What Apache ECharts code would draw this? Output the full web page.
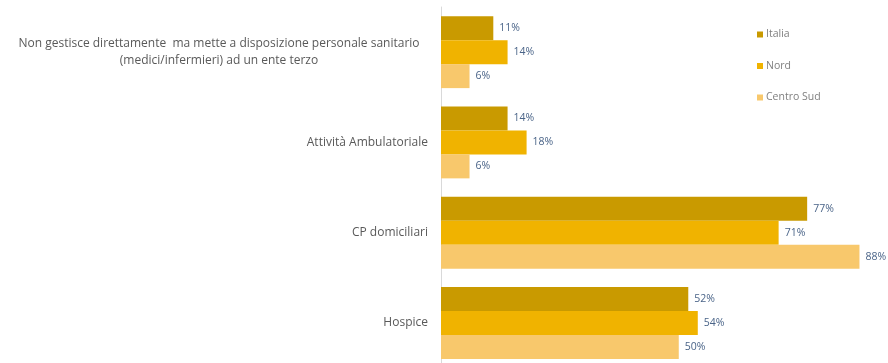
<!DOCTYPE html>
<html><head><meta charset="utf-8">
<script src="https://cdn.jsdelivr.net/npm/echarts@6/dist/echarts.min.js"></script>
<style>html,body{margin:0;padding:0;background:#fff;overflow:hidden}#c{width:888px;height:368px}</style>
</head><body><div id="c"></div>
<script>
var categories = [
  "Non gestisce direttamente  ma mette a disposizione personale sanitario\n(medici/infermieri) ad un ente terzo",
  "Attività Ambulatoriale",
  "CP domiciliari",
  "Hospice"
];
var seriesNames = ["Italia", "Nord", "Centro Sud"];
var italia = [11, 14, 77, 52];
var nord = [14, 18, 71, 54];
var centroSud = [6, 6, 88, 50];
var colors = ["#C99A00", "#F0B300", "#F8C86C"];

var values = [italia, nord, centroSud];
var chart = echarts.init(document.getElementById('c'));
chart.setOption({
  animation: false,
  backgroundColor: '#ffffff',
  legend: {
    orient: 'vertical',
    left: 752, top: 24,
    itemWidth: 6, itemHeight: 6, itemGap: 20.5,
    icon: 'rect',
    textStyle: {fontFamily: 'Open Sans', fontSize: 10.5, color: '#7f7f7f', padding: [0,0,0,-2]},
    data: seriesNames
  },
  grid: {left: 441, right: 0, top: 7, bottom: 0, containLabel: false},
  xAxis: {type: 'value', min: 0, max: 94, show: false},
  yAxis: {
    type: 'category', inverse: true, data: categories,
    axisLine: {show: true, lineStyle: {color: '#d9d9d9', width: 1}},
    axisTick: {show: false},
    axisLabel: {fontFamily: 'Open Sans', fontSize: 12, color: '#595959', margin: 13, align: 'right', lineHeight: 17,
      formatter: function(v){
        if (v.indexOf('\n') < 0) return v;
        return v.split('\n').map(function(s){return '{c|' + s + '}';}).join('\n');
      },
      rich: {c: {width: 418, align: 'center', fontFamily: 'Open Sans', fontSize: 12, color: '#595959', lineHeight: 17}}
    }
  },
  series: seriesNames.map(function(n, i){
    return {
      name: n, type: 'bar', data: values[i], barWidth: 24, barGap: '0%',
      itemStyle: {color: colors[i]},
      label: {show: true, position: 'right', distance: 6, formatter: '{c}%', fontFamily: 'Open Sans', fontSize: 10.5, color: '#4a6488'}
    };
  })
});
</script></body></html>
